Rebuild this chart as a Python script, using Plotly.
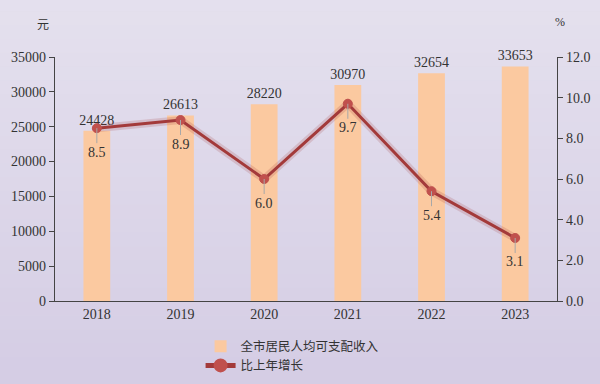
import plotly.graph_objects as go

years = ["2018", "2019", "2020", "2021", "2022", "2023"]
income = [24428, 26613, 28220, 30970, 32654, 33653]
growth = [8.5, 8.9, 6.0, 9.7, 5.4, 3.1]
left_ticks = [0, 5000, 10000, 15000, 20000, 25000, 30000, 35000]
right_ticks = [0, 2, 4, 6, 8, 10, 12]

serif = "Liberation Serif, Times New Roman, serif"
sans = "Noto Sans CJK SC, sans-serif"

fig = go.Figure()

# background gradient stripes
top_c = (229, 225, 238)
bot_c = (212, 204, 228)
n = 30
for i in range(n):
    t = i / (n - 1)
    c = tuple(round(top_c[k] + (bot_c[k] - top_c[k]) * t) for k in range(3))
    fig.add_shape(type="rect", xref="paper", yref="paper",
                  x0=-0.2, x1=1.2, y0=1.3 - (i + 1) * (1.7 / n), y1=1.3 - i * (1.7 / n) + 0.001,
                  fillcolor="rgb(%d,%d,%d)" % c, line_width=0, layer="below")

fig.add_trace(go.Bar(
    x=years, y=income, name="全市居民人均可支配收入",
    marker=dict(color="#fbc9a0", line_width=0), width=0.32,
    text=[str(v) for v in income], textposition="outside", constraintext="none",
    textfont=dict(family=serif, size=14, color="#333333"),
    cliponaxis=False,
))

# soft shadow under the line
fig.add_trace(go.Scatter(
    x=years, y=growth, yaxis="y2", mode="lines", showlegend=False, hoverinfo="skip",
    line=dict(color="rgba(163,58,58,0.18)", width=8),
))

fig.add_trace(go.Scatter(
    x=years, y=growth, name="比上年增长", yaxis="y2",
    mode="lines+markers",
    line=dict(color="#a33a3a", width=3),
    marker=dict(color="#c0504d", size=9, line=dict(color="#c0504d", width=1)),
))

for i, g in enumerate(growth):
    fig.add_annotation(x=i, y=g, xref="x", yref="y2", text="%.1f" % g,
                       showarrow=True, arrowhead=0, arrowwidth=1, arrowcolor="#a8a8a8",
                       ax=0, ay=24, font=dict(family=serif, size=14, color="#333333"))

fig.add_annotation(xref="paper", yref="paper", x=-0.04, y=1.18, text="元", showarrow=False,
                   font=dict(family=sans, size=12, color="#333333"))
fig.add_annotation(xref="paper", yref="paper", x=1.02, y=1.18, text="%", showarrow=False,
                   font=dict(family=serif, size=12, color="#333333"))

fig.update_layout(
    width=600, height=384,
    margin=dict(l=55, r=43, t=57, b=83, autoexpand=False),
    paper_bgcolor="rgb(220,214,232)",
    plot_bgcolor="rgba(0,0,0,0)",
    showlegend=True,
    legend=dict(x=0.29, y=-0.125, xanchor="left", yanchor="top",
                font=dict(family=sans, size=12.5, color="#333333"),
                bgcolor="rgba(0,0,0,0)", tracegroupgap=0, itemsizing="constant"),
    xaxis=dict(type="category", range=[-0.5, 5.5], showline=True, linecolor="#444444",
               linewidth=1.2, ticks="", tickfont=dict(family=serif, size=14, color="#333333"),
               showgrid=False, fixedrange=True, automargin=False),
    yaxis=dict(range=[0, 35000], tickvals=left_ticks, ticktext=[str(v) for v in left_ticks],
               showline=True, linecolor="#444444",
               linewidth=1.2, ticks="outside", ticklen=5, tickcolor="#444444",
               tickfont=dict(family=serif, size=14, color="#333333"), showgrid=False,
               zeroline=False, automargin=False),
    yaxis2=dict(range=[0, 12], tickvals=right_ticks, tickformat=".1f", overlaying="y",
                side="right", showline=True, linecolor="#444444", linewidth=1.2,
                ticks="outside", ticklen=5, tickcolor="#444444",
                tickfont=dict(family=serif, size=14, color="#333333"), showgrid=False,
                zeroline=False, automargin=False),
)

fig.write_html("out.html", config={"displayModeBar": False},
               post_script="document.body.style.margin='0';")
